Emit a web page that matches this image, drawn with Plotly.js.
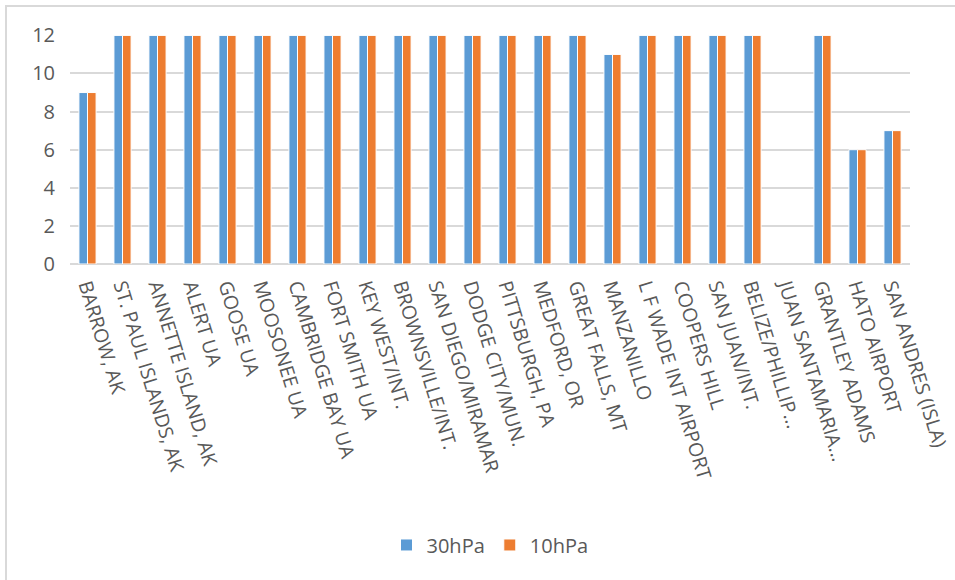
<!DOCTYPE html>
<html>
<head>
<meta charset="utf-8">
<script src="https://cdn.plot.ly/plotly-3.0.1.min.js"></script>
<style>
  html, body { margin: 0; padding: 0; background: #ffffff; }
  #frame { position: absolute; left: 5px; top: 5px; width: 960px; height: 590px;
           border-left: 2px solid #d9d9d9; border-top: 2px solid #d9d9d9; box-sizing: border-box; }
  #chart { position: absolute; left: 0; top: 0; width: 955px; height: 580px; }
</style>
</head>
<body>
<div id="frame"></div>
<div id="chart"></div>
<script>
const stations = [
  "BARROW, AK", "ST. PAUL ISLANDS, AK", "ANNETTE ISLAND, AK", "ALERT UA", "GOOSE UA",
  "MOOSONEE UA", "CAMBRIDGE BAY UA", "FORT SMITH UA", "KEY WEST/INT.", "BROWNSVILLE/INT.",
  "SAN DIEGO/MIRAMAR", "DODGE CITY/MUN.", "PITTSBURGH, PA", "MEDFORD, OR", "GREAT FALLS, MT",
  "MANZANILLO", "L F WADE INT AIRPORT", "COOPERS HILL", "SAN JUAN/INT.", "BELIZE/PHILLIP...",
  "JUAN SANTAMARIA...", "GRANTLEY ADAMS", "HATO AIRPORT", "SAN ANDRES (ISLA)"
];
const values30hPa = [9, 12, 12, 12, 12, 12, 12, 12, 12, 12, 12, 12, 12, 12, 12, 11, 12, 12, 12, 12, null, 12, 6, 7];
const values10hPa = [9, 12, 12, 12, 12, 12, 12, 12, 12, 12, 12, 12, 12, 12, 12, 11, 12, 12, 12, 12, null, 12, 6, 7];
const yTicks = [0, 2, 4, 6, 8, 10, 12];

const fontFam = "'Open Sans', 'Noto Sans', sans-serif";
const txt = "#595959";

const traces = [
  { type: "bar", name: "30hPa", x: stations, y: values30hPa,
    marker: { color: "#5B9BD5", line: { color: "#ffffff", width: 1 } }, hoverinfo: "x+y+name" },
  { type: "bar", name: "10hPa", x: stations, y: values10hPa,
    marker: { color: "#ED7D31", line: { color: "#ffffff", width: 1 } }, hoverinfo: "x+y+name" }
];

const layout = {
  width: 955, height: 580,
  margin: { l: 70, r: 45, t: 35, b: 316 },
  paper_bgcolor: "rgba(0,0,0,0)",
  plot_bgcolor: "rgba(0,0,0,0)",
  barmode: "group",
  bargap: 0.51,
  bargroupgap: 0,
  font: { family: fontFam, color: txt, size: 19 },
  xaxis: {
    type: "category",
    tickangle: 73,
    tickfont: { family: fontFam, color: txt, size: 19.5 },
    showgrid: false, zeroline: false,
    showline: false, ticks: "",
    ticklabelstandoff: 6,
    automargin: false,
    fixedrange: true
  },
  yaxis: {
    range: [0, 12.02],
    tickvals: yTicks,
    ticktext: yTicks.map(String),
    tickfont: { family: fontFam, color: txt, size: 20 },
    showgrid: true, gridcolor: "#d9d9d9", gridwidth: 2,
    zeroline: true, zerolinecolor: "#d9d9d9", zerolinewidth: 2,
    showline: false, ticks: "",
    ticklabelstandoff: 14,
    automargin: false,
    fixedrange: true
  },
  showlegend: true,
  legend: {
    orientation: "h",
    x: 0.5, xanchor: "center",
    y: -1.227, yanchor: "middle",
    font: { family: fontFam, color: txt, size: 20 },
    itemwidth: 30,
    bgcolor: "rgba(0,0,0,0)"
  }
};

Plotly.newPlot("chart", traces, layout, { displayModeBar: false, staticPlot: true });
</script>
</body>
</html>
